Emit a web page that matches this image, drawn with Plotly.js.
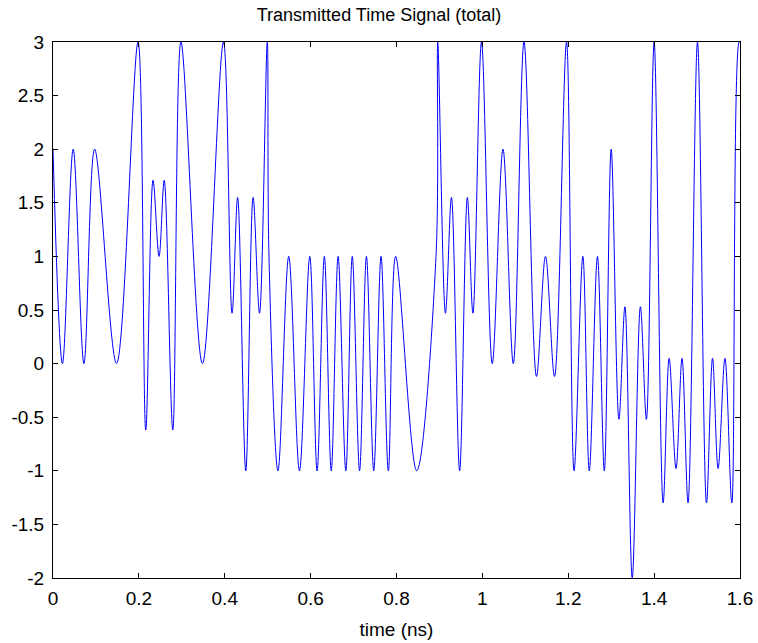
<!DOCTYPE html>
<html>
<head>
<meta charset="utf-8">
<script src="https://cdn.plot.ly/plotly-3.0.1.min.js"></script>
<style>html,body{margin:0;padding:0;background:#fff;}#chart{width:758px;height:643px;}</style>
</head>
<body>
<div id="chart"></div>
<script>
// Extrema / key points of the signal (time in ns)
var timeNs = [0.000,0.022,0.047,0.072,0.097,0.148,0.198,0.216,0.233,0.247,0.259,0.279,0.298,0.348,0.397,0.417,0.430,0.449,0.466,0.481,0.499,0.503,0.524,0.549,0.574,0.598,0.615,0.632,0.648,0.664,0.682,0.697,0.714,0.730,0.747,0.764,0.781,0.798,0.847,0.892,0.896,0.914,0.928,0.947,0.965,0.978,0.998,1.023,1.048,1.072,1.097,1.126,1.147,1.168,1.196,1.2135,1.234,1.249,1.268,1.284,1.300,1.318,1.332,1.349,1.368,1.382,1.400,1.421,1.435,1.451,1.465,1.479,1.501,1.522,1.536,1.549,1.565,1.581,1.598,1.600];
var signal = [2.0,0.0,2.0,0.0,2.0,0.0,3.0,-0.62,1.71,1.0,1.71,-0.62,3.0,0.0,3.0,0.47,1.55,-1.0,1.55,0.47,3.0,1.0,-1.0,1.0,-1.0,1.0,-1.0,1.0,-1.0,1.0,-1.0,1.0,-1.0,1.0,-1.0,1.0,-1.0,1.0,-1.0,1.0,3.0,0.47,1.55,-1.0,1.55,0.47,3.0,0.0,2.0,0.0,3.0,-0.12,1.0,-0.12,3.0,-1.0,1.0,-1.0,1.0,-1.0,2.0,-0.52,0.53,-2.0,0.53,-0.52,3.0,-1.30,0.05,-0.98,0.05,-1.30,3.0,-1.30,0.05,-0.98,0.05,-1.30,3.0,3.0];
var xTicks = [0,0.2,0.4,0.6,0.8,1,1.2,1.4,1.6];
var xTickText = ['0','0.2','0.4','0.6','0.8','1','1.2','1.4','1.6'];
var yTicks = [-2,-1.5,-1,-0.5,0,0.5,1,1.5,2,2.5,3];
var yTickText = ['-2','-1.5','-1','-0.5','0','0.5','1','1.5','2','2.5','3'];

var fontFam = 'Liberation Sans, Arial, Helvetica, sans-serif';
var trace = {
  x: timeNs, y: signal, type: 'scatter', mode: 'lines',
  line: {color: '#0000ff', width: 1, shape: 'spline', smoothing: 1},
  hoverinfo: 'x+y'
};
var axisCommon = {
  showline: true, linecolor: '#000', linewidth: 1, mirror: 'ticks',
  ticks: 'inside', ticklen: 5, tickcolor: '#000', showgrid: false, zeroline: false,
  tickfont: {family: fontFam, size: 19, color: '#000'}
};
var layout = {
  width: 758, height: 643,
  margin: {l: 53, r: 18, t: 42, b: 65},
  paper_bgcolor: '#fff', plot_bgcolor: '#fff',
  showlegend: false,
  title: {text: 'Transmitted Time Signal (total)', font: {family: fontFam, size: 18, color: '#000'}, x: 0.5, xanchor: 'center', y: 0.977, yanchor: 'middle'},
  xaxis: Object.assign({}, axisCommon, {range: [0, 1.6], tickvals: xTicks, ticktext: xTickText, ticklabelstandoff: 3,
    title: {text: 'time (ns)', font: {family: fontFam, size: 19, color: '#000'}, standoff: 14}}),
  yaxis: Object.assign({}, axisCommon, {range: [-2, 3], tickvals: yTicks, ticktext: yTickText, ticklabelstandoff: 4})
};
Plotly.newPlot('chart', [trace], layout, {displayModeBar: false, staticPlot: true});
</script>
</body>
</html>
